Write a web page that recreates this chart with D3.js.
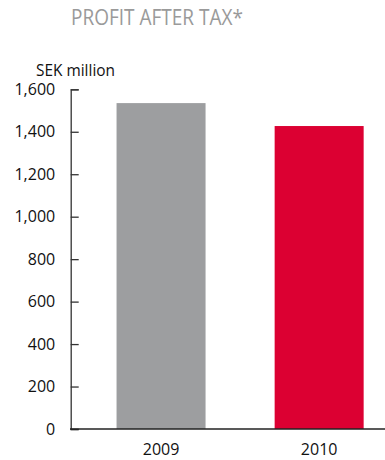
<!DOCTYPE html>
<html>
<head>
<meta charset="utf-8">
<script src="https://cdn.jsdelivr.net/npm/d3@7"></script>
<style>
  html, body { margin: 0; padding: 0; background: #fff; }
  svg { display: block; font-family: "Open Sans", "Noto Sans", sans-serif; }
</style>
</head>
<body>
<svg id="chart" width="385" height="460"></svg>
<script>
// Profit after tax, SEK million
const years = ["2009", "2010"];
const profit = [1535, 1427];
const barColors = ["#9d9ea0", "#dc0032"];
const yTicks = [0, 200, 400, 600, 800, 1000, 1200, 1400, 1600];

const svg = d3.select("#chart");

const y = d3.scaleLinear().domain([0, 1600]).range([429, 89.3]);
const x = d3.scaleBand().domain(years).range([70.7, 409.5])
  .paddingInner(0.437).paddingOuter(0.29);

// Title
svg.append("text")
  .attr("x", 71).attr("y", 24.5)
  .attr("font-size", 21)
  .attr("fill", "#9a9a9a")
  .attr("textLength", 172)
  .attr("lengthAdjust", "spacingAndGlyphs")
  .text("PROFIT AFTER TAX*");

// Unit label
svg.append("text")
  .attr("x", 36).attr("y", 75.5)
  .attr("font-size", 16.5)
  .attr("fill", "#111")
  .attr("textLength", 79)
  .attr("lengthAdjust", "spacingAndGlyphs")
  .text("SEK million");

// Bars
svg.selectAll("rect.bar")
  .data(years)
  .join("rect")
  .attr("class", "bar")
  .attr("x", d => x(d))
  .attr("width", x.bandwidth())
  .attr("y", (d, i) => y(profit[i]))
  .attr("height", (d, i) => y(0) - y(profit[i]))
  .attr("fill", (d, i) => barColors[i]);

// Y axis with inward ticks
const yAxis = d3.axisLeft(y)
  .tickValues(yTicks)
  .tickSize(-8)
  .tickPadding(15.5)
  .tickFormat(d3.format(","));

const gy = svg.append("g")
  .attr("transform", "translate(70.7,0)")
  .call(yAxis);
gy.select(".domain").attr("stroke", "#333").attr("stroke-width", 1.3);
gy.selectAll(".tick line").attr("stroke", "#333").attr("stroke-width", 1.3);
gy.selectAll(".tick text")
  .attr("font-size", 16)
  .attr("fill", "#111")
  .attr("font-family", "'Open Sans', sans-serif");

// Baseline
svg.append("line")
  .attr("x1", 70).attr("x2", 385)
  .attr("y1", y(0)).attr("y2", y(0))
  .attr("stroke", "#222").attr("stroke-width", 1.4);

// Year labels
svg.selectAll("text.year")
  .data(years)
  .join("text")
  .attr("class", "year")
  .attr("x", d => x(d) + x.bandwidth() / 2)
  .attr("y", 455)
  .attr("text-anchor", "middle")
  .attr("font-size", 16)
  .attr("fill", "#111")
  .text(d => d);
</script>
</body>
</html>
